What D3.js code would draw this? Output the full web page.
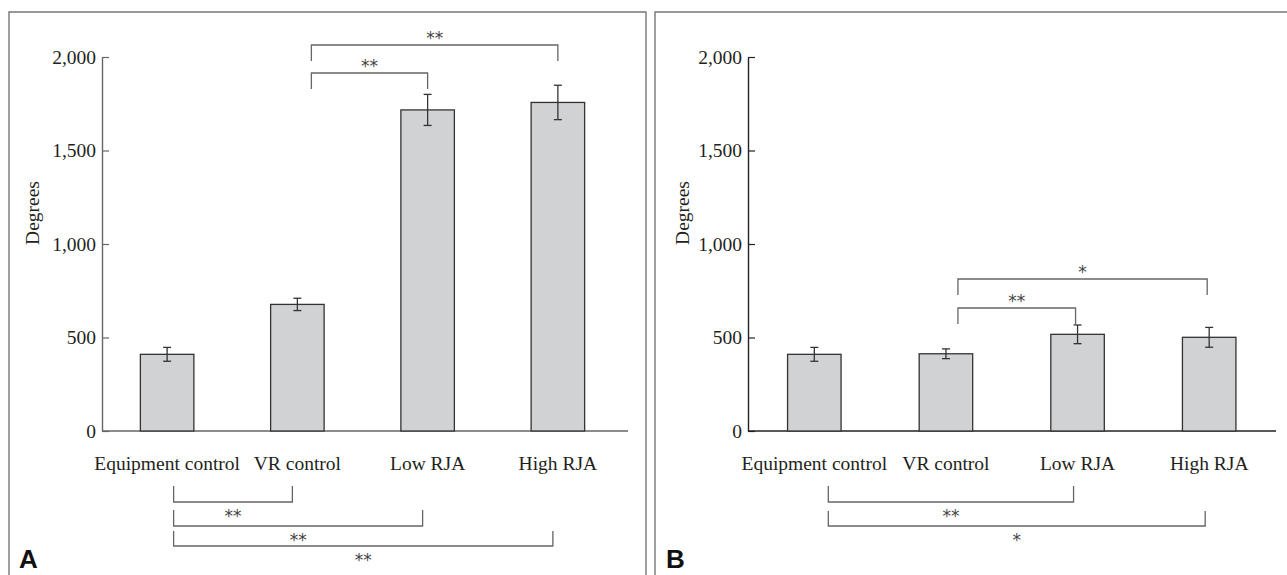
<!DOCTYPE html>
<html>
<head>
<meta charset="utf-8">
<script src="https://cdn.jsdelivr.net/npm/d3@7"></script>
<style>
  body { margin: 0; background: #fff; }
  svg { display: block; }
  .serif { font-family: "Liberation Serif", "Times New Roman", serif; fill: #231f20; }
  .star { font-family: "DejaVu Sans", sans-serif; fill: #444; font-size: 17px; }
</style>
</head>
<body>
<svg id="fig" width="1287" height="575"></svg>
<script>
// data
const categories = ["Equipment control", "VR control", "Low RJA", "High RJA"];
const meanA = [410, 677, 1717, 1757];
const errA = [37, 33, 83, 92];
const meanB = [410, 413, 517, 501];
const errB = [37, 26, 50, 53];
const yTicks = [0, 500, 1000, 1500, 2000];

// significance brackets (category indices)
const sigTopA = [{from: 1, to: 3, label: "**"}, {from: 1, to: 2, label: "**"}];
const sigBottomA = [{from: 0, to: 1, label: "**"}, {from: 0, to: 2, label: "**"}, {from: 0, to: 3, label: "**"}];
const sigTopB = [{from: 1, to: 3, label: "*"}, {from: 1, to: 2, label: "**"}];
const sigBottomB = [{from: 0, to: 2, label: "**"}, {from: 0, to: 3, label: "*"}];

const svg = d3.select("#fig");
const y = d3.scaleLinear().domain([0, 2000]).range([431, 57]);

function panel(opt) {
  const g = svg.append("g");

  // frame
  g.append("path")
    .attr("d", `M${opt.frame[0]},575 V12 H${opt.frame[1]}` + (opt.frame[2] ? ` V575` : ""))
    .attr("fill", "none").attr("stroke", "#777").attr("stroke-width", 1.4);

  const x = d3.scalePoint().domain(categories).range(opt.range).padding(0.5);
  const bw = 53.5;

  // y axis
  const yAxis = d3.axisLeft(y).tickValues(yTicks).tickSizeInner(-7).tickSizeOuter(0)
    .tickPadding(6).tickFormat(d3.format(","));
  const ya = g.append("g").attr("transform", `translate(${opt.axisX},0)`).call(yAxis);
  ya.select(".domain").attr("stroke", opt.axisColor).attr("stroke-width", 1.4);
  ya.selectAll(".tick line").attr("stroke", opt.axisColor).attr("stroke-width", 1.2);
  ya.selectAll(".tick text").attr("class", "serif").style("font-size", "19.5px");

  // x axis baseline
  g.append("line")
    .attr("x1", opt.axisX).attr("x2", opt.axisEnd)
    .attr("y1", y(0)).attr("y2", y(0))
    .attr("stroke", opt.axisColor).attr("stroke-width", 1.4);

  // bars
  g.selectAll(".bar").data(opt.mean).join("rect")
    .attr("x", (d, i) => x(categories[i]) - bw / 2)
    .attr("y", d => y(d))
    .attr("width", bw)
    .attr("height", d => y(0) - y(d))
    .attr("fill", "#d1d2d4").attr("stroke", "#333").attr("stroke-width", 1.3);

  // error bars
  const eb = g.selectAll(".err").data(opt.mean).join("g")
    .attr("stroke", "#333").attr("stroke-width", 1.3);
  eb.append("line")
    .attr("x1", (d, i) => x(categories[i])).attr("x2", (d, i) => x(categories[i]))
    .attr("y1", (d, i) => y(d + opt.err[i])).attr("y2", (d, i) => y(d - opt.err[i]));
  eb.append("line")
    .attr("x1", (d, i) => x(categories[i]) - 4).attr("x2", (d, i) => x(categories[i]) + 4)
    .attr("y1", (d, i) => y(d + opt.err[i])).attr("y2", (d, i) => y(d + opt.err[i]));
  eb.append("line")
    .attr("x1", (d, i) => x(categories[i]) - 4).attr("x2", (d, i) => x(categories[i]) + 4)
    .attr("y1", (d, i) => y(d - opt.err[i])).attr("y2", (d, i) => y(d - opt.err[i]));

  // category labels
  g.selectAll(".xl").data(categories).join("text")
    .attr("class", "serif")
    .attr("x", d => x(d)).attr("y", 470)
    .attr("text-anchor", "middle")
    .style("font-size", "19.5px")
    .text(d => d);

  // y label
  g.append("text").attr("class", "serif")
    .attr("transform", `translate(${opt.ylabX},213) rotate(-90)`)
    .attr("text-anchor", "middle")
    .style("font-size", "19.5px")
    .text("Degrees");

  // top brackets: legs hang down, label above
  opt.top.forEach((b, k) => {
    const x1 = x(categories[b.from]) + opt.topOff[0];
    const x2 = x(categories[b.to]) + opt.topOff[1];
    const yl = opt.topY[k];
    g.append("path")
      .attr("d", `M${x1},${yl + 16} V${yl} H${x2} V${yl + 16}`)
      .attr("fill", "none").attr("stroke", "#666").attr("stroke-width", 1.3);
    g.append("text").attr("class", "star")
      .attr("x", (x1 + x2) / 2).attr("y", yl - 1)
      .attr("text-anchor", "middle")
      .text(b.label);
  });

  // bottom brackets: legs rise up, label below
  opt.bottom.forEach((b, k) => {
    const x1 = x(categories[b.from]) + opt.botOff[0];
    const x2 = x(categories[b.to]) + opt.botOff[1];
    const yl = opt.botY[k];
    g.append("path")
      .attr("d", `M${x1},${yl - opt.legs[k]} V${yl} H${x2} V${yl - opt.legs[k]}`)
      .attr("fill", "none").attr("stroke", "#666").attr("stroke-width", 1.3);
    g.append("text").attr("class", "star")
      .attr("x", (x1 + x2) / 2).attr("y", yl + 20)
      .attr("text-anchor", "middle")
      .text(b.label);
  });

  // panel letter
  g.append("text")
    .attr("x", opt.letterX).attr("y", 568)
    .style("font-family", "Liberation Sans, Arial, sans-serif")
    .style("font-weight", "bold").style("font-size", "26px").style("fill", "#111")
    .text(opt.letter);
}

panel({
  frame: [9, 646, true], range: [102, 623], axisX: 102, axisEnd: 628,
  axisColor: "#666", ylabX: 39, mean: meanA, err: errA,
  top: sigTopA, topY: [45, 73], topOff: [14, 0],
  bottom: sigBottomA, botY: [502, 526, 546], legs: [16, 16, 15], botOff: [6.5, -5],
  letter: "A", letterX: 19
});

panel({
  frame: [655, 1287, false], range: [748.5, 1275], axisX: 748, axisEnd: 1276,
  axisColor: "#222", ylabX: 689, mean: meanB, err: errB,
  top: sigTopB, topY: [279, 308], topOff: [12, -2],
  bottom: sigBottomB, botY: [502, 526], legs: [16, 15], botOff: [14, -4],
  letter: "B", letterX: 666
});
</script>
</body>
</html>
